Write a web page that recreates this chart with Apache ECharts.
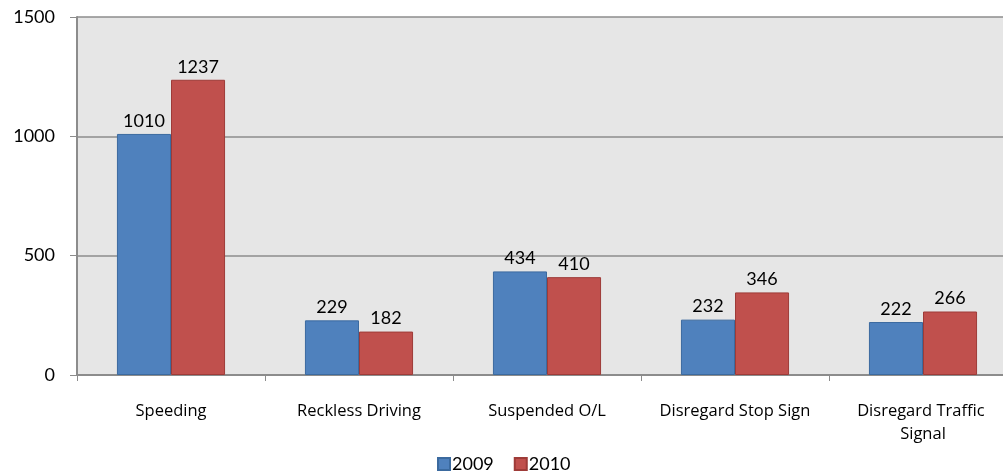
<!DOCTYPE html>
<html><head><meta charset="utf-8">
<script src="https://cdn.jsdelivr.net/npm/echarts@6/dist/echarts.min.js"></script>
<style>html,body{margin:0;padding:0;background:#fff;overflow:hidden}#c{width:1017px;height:475px}</style>
</head><body><div id="c"></div>
<script>
var categories = ["Speeding", "Reckless Driving", "Suspended O/L", "Disregard Stop Sign", "Disregard Traffic Signal"];
var seriesNames = ["2009", "2010"];
var values2009 = [1010, 229, 434, 232, 222];
var values2010 = [1237, 182, 410, 346, 266];
var yTicks = [0, 500, 1000, 1500];

var font = "Lato, 'Open Sans', sans-serif";
var catFont = "'Open Sans', sans-serif";
var chart = echarts.init(document.getElementById('c'));
chart.setOption({
  animation: false,
  textStyle: {fontFamily: font},
  grid: {left: 77, right: 0, top: 17, bottom: 100, show: true, backgroundColor: '#E6E6E6', borderWidth: 0},
  legend: {
    bottom: -3, left: 432, itemWidth: 12, itemHeight: 12, itemGap: 20,
    icon: 'rect',
    textStyle: {fontSize: 18, color: '#000', fontFamily: font, padding: [0,0,0,-3]},
    data: seriesNames
  },
  xAxis: {
    type: 'category', data: categories,
    axisLine: {lineStyle: {color: '#8C8C8C', width: 2}},
    axisTick: {show: true, length: 6, lineStyle: {color: '#8C8C8C'}},
    axisLabel: {color: '#000', fontSize: 16.5, margin: 25, width: 160, overflow: 'break', lineHeight: 23, interval: 0, fontFamily: catFont}
  },
  yAxis: {
    type: 'value', min: yTicks[0], max: yTicks[yTicks.length-1], interval: 500,
    axisLine: {show: true, lineStyle: {color: '#8C8C8C', width: 2}},
    axisTick: {show: true, length: 7, lineStyle: {color: '#8C8C8C'}},
    splitLine: {lineStyle: {color: '#8C8C8C', width: 1.5}},
    axisLabel: {color: '#000', fontSize: 18, margin: 22, fontFamily: font, formatter: function(v){return String(v);}}
  },
  series: [
    {name: seriesNames[0], type: 'bar', data: values2009, barGap: '0%', barCategoryGap: '42.5%',
     itemStyle: {color: '#4F81BD', borderColor: '#3B6A9F', borderWidth: 1},
     label: {show: true, position: 'top', color: '#000', fontSize: 18, distance: 4, fontFamily: font}},
    {name: seriesNames[1], type: 'bar', data: values2010, barGap: '0%', barCategoryGap: '42.5%',
     itemStyle: {color: '#C0504D', borderColor: '#9E3B38', borderWidth: 1},
     label: {show: true, position: 'top', color: '#000', fontSize: 18, distance: 4, fontFamily: font}}
  ]
});
</script></body></html>
